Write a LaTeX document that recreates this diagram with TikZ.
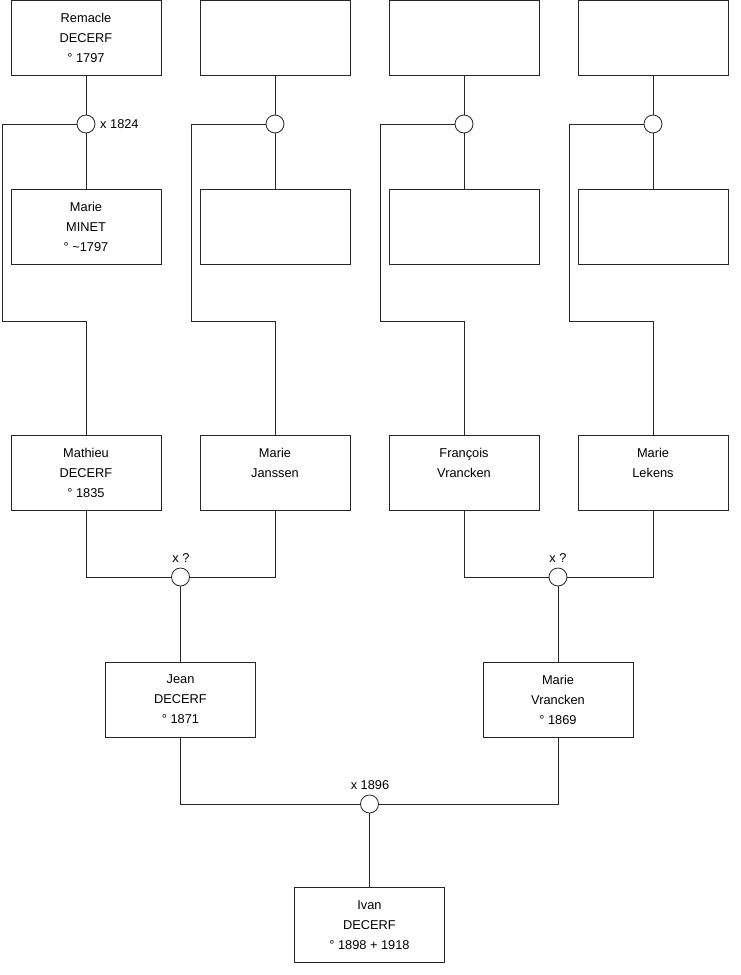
\documentclass[tikz,border=0pt]{standalone}
\usepackage{fontspec}
\setmainfont{Liberation Sans}
\begin{document}
\begin{tikzpicture}[x=1pt,y=-1pt,
  person/.style={draw=black!85,line width=0.8pt,fill=white,minimum width=150pt,minimum height=75pt,inner sep=0pt,align=center,font={\fontsize{12.8}{20}\selectfont}},
  union/.style={draw=black!85,line width=0.8pt,fill=white,circle,minimum size=18pt,inner sep=0pt},
  link/.style={draw=black!85,line width=0.8pt},
  lbl/.style={font={\fontsize{12.8}{14}\selectfont},inner sep=0pt}]
\useasboundingbox (0,0) rectangle (740,975);
% row 1
\node[person] (p1) at (86,38) {Remacle\\DECERF\\° 1797};
\node[person] (p2) at (275,38) {};
\node[person] (p3) at (464,38) {};
\node[person] (p4) at (653,38) {};
% unions row 1
\node[union] (c1) at (86,124) {};
\node[union] (c2) at (275,124) {};
\node[union] (c3) at (464,124) {};
\node[union] (c4) at (653,124) {};
\node[lbl,anchor=west] (l1) at (100,124) {x 1824};
% row 2
\node[person] (p5) at (86,227) {Marie\\MINET\\° \textasciitilde1797};
\node[person] (p6) at (275,227) {};
\node[person] (p7) at (464,227) {};
\node[person] (p8) at (653,227) {};
% row 3
\node[person] (p9) at (86,472.5) {Mathieu\\DECERF\\° 1835};
\node[person] (p10) at (275,472.5) {Marie\\Janssen\\\mbox{}};
\node[person] (p11) at (464,472.5) {François\\Vrancken\\\mbox{}};
\node[person] (p12) at (653,472.5) {Marie\\Lekens\\\mbox{}};
% unions row 3
\node[union] (m1) at (180.5,577) {};
\node[union] (m2) at (558,577) {};
\node[lbl] (l2) at (181,558) {x ?};
\node[lbl] (l3) at (558,558) {x ?};
% row 4
\node[person] (p13) at (180.5,699.5) {Jean\\DECERF\\° 1871};
\node[person] (p14) at (558,699.5) {Marie\\Vrancken\\° 1869};
\node[union] (m3) at (369.5,804) {};
\node[lbl] (l4) at (370,785) {x 1896};
\node[person] (p15) at (369.5,925) {Ivan\\DECERF\\° 1898 + 1918};
% connectors
\foreach \a/\c/\b in {p1/c1/p5,p2/c2/p6,p3/c3/p7,p4/c4/p8}{
  \draw[link] (\a.south) -- (\c.north);
  \draw[link] (\c.south) -- (\b.north);
}
\draw[link] (c1.west) -- (2,124) -- (2,321) -| (p9.north);
\draw[link] (c2.west) -- (191,124) -- (191,321) -| (p10.north);
\draw[link] (c3.west) -- (380,124) -- (380,321) -| (p11.north);
\draw[link] (c4.west) -- (569,124) -- (569,321) -| (p12.north);
\draw[link] (p9.south) |- (m1.west);
\draw[link] (p10.south) |- (m1.east);
\draw[link] (m1.south) -- (p13.north);
\draw[link] (p11.south) |- (m2.west);
\draw[link] (p12.south) |- (m2.east);
\draw[link] (m2.south) -- (p14.north);
\draw[link] (p13.south) |- (m3.west);
\draw[link] (p14.south) |- (m3.east);
\draw[link] (m3.south) -- (p15.north);
\end{tikzpicture}
\end{document}
